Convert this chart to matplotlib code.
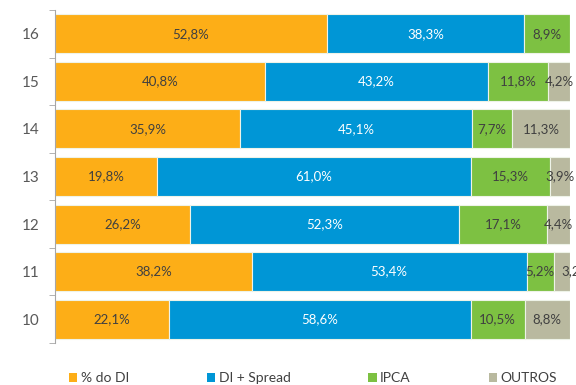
import matplotlib.pyplot as plt
from matplotlib.patches import Patch
import numpy as np

# Participação por indexador (%), anos 10 a 16
anos = ['10', '11', '12', '13', '14', '15', '16']
pct_di = [22.1, 38.2, 26.2, 19.8, 35.9, 40.8, 52.8]
di_spread = [58.6, 53.4, 52.3, 61.0, 45.1, 43.2, 38.3]
ipca = [10.5, 5.2, 17.1, 15.3, 7.7, 11.8, 8.9]
outros = [8.8, 3.2, 4.4, 3.9, 11.3, 4.2, 0.0]

series = ['% do DI', 'DI + Spread', 'IPCA', 'OUTROS']
cores = ['#FDAE17', '#0096D6', '#7DC142', '#B9B99F']
cor_texto = ['#404040', 'white', '#404040', '#404040']

plt.rcParams['font.family'] = ['Lato', 'DejaVu Sans']

fig = plt.figure(figsize=(5.76, 3.85), dpi=100)
ax = fig.add_axes([55 / 576, 1 - 343 / 385, 515 / 576, 333 / 385])

y = np.arange(len(anos))
esquerda = np.zeros(len(anos))
for valores, cor, ct in zip([pct_di, di_spread, ipca, outros], cores, cor_texto):
    valores = np.array(valores)
    ax.barh(y, valores, left=esquerda, height=0.82, color=cor,
            edgecolor='#EEF3E8', linewidth=0.8)
    for yi, l, v in zip(y, esquerda, valores):
        if v > 0:
            # rótulos que não cabem no segmento começam no centro dele
            ha = 'left' if v < 3.5 else 'center'
            ax.text(l + v / 2, yi, f'{v:.1f}%'.replace('.', ','),
                    ha=ha, va='center', fontsize=9.5, color=ct,
                    clip_on=False)
    esquerda += valores

ax.set_xlim(0, 100)
ax.set_ylim(-0.5, len(anos) - 0.5)
ax.set_xticks([])
ax.set_yticks(y)
ax.set_yticklabels(anos, fontsize=11, color='#595959')
ax.set_yticks(np.arange(-0.5, len(anos)), minor=True)
ax.tick_params(axis='y', which='major', length=0, pad=11)
ax.tick_params(axis='y', which='minor', length=4, color='#A6A6A6')
for lado in ['top', 'right', 'bottom']:
    ax.spines[lado].set_visible(False)
ax.spines['left'].set_color('#A6A6A6')

handles = [Patch(facecolor=c, edgecolor='none') for c in cores]
fig.legend(handles, series, loc='center', bbox_to_anchor=(313 / 576, 1 - 378 / 385),
           ncol=4, frameon=False, fontsize=10, handlelength=0.6,
           handleheight=0.6, handletextpad=0.25, columnspacing=5.6,
           labelcolor='#404040', borderpad=0)

fig.savefig('out.png', dpi=100)
